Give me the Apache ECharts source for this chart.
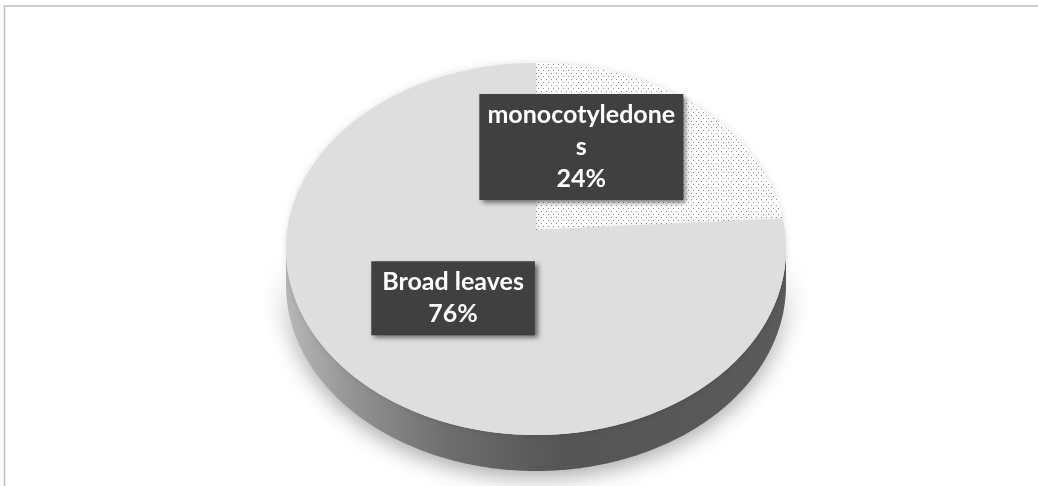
<!DOCTYPE html>
<html>
<head>
<meta charset="utf-8">
<script src="https://cdn.jsdelivr.net/npm/echarts@6/dist/echarts.min.js"></script>
<style>
html,body{margin:0;padding:0;background:#fff;}
#chart{width:1038px;height:486px;}
</style>
</head>
<body>
<div id="chart"></div>
<script>
// ---- data ----
const categories = ['monocotyledones', 'Broad leaves'];
const values = [24, 76];

// ---- layout (pixel geometry of the tilted pie) ----
const CX = 536, CY = 230;       // projected pie centre
const RX = 248.7, RY = 184.1;   // projection scale
const K = 0.1021;               // perspective factor
const DEPTH = 36;               // thickness of the pie
const LABEL_R = 0.47;
const LABEL_SHIFT = [[-32, -22], [0, 3]];
const LABEL_WIDTH = [192, null];
const LABEL_PAD = [[5, 6, 5, 6], [5, 11, 5, 11]];

const total = values.reduce((a, b) => a + b, 0);
const starts = [];
values.reduce((acc, v, i) => { starts[i] = acc; return acc + v; }, 0);

function proj(theta, r, dy) {
  const u = r * Math.sin(theta), v = -r * Math.cos(theta);
  const d = 1 - K * v;
  return [CX + RX * u / d, CY + (dy || 0) + RY * v / d];
}

function dotPattern(bg, dot) {
  const c = document.createElement('canvas');
  c.width = 5; c.height = 6;
  const g = c.getContext('2d');
  g.fillStyle = bg; g.fillRect(0, 0, 5, 6);
  g.fillStyle = dot;
  g.fillRect(1, 1, 1, 1);
  g.fillRect(3, 4, 1, 1);
  return c;
}
const monoFill = { image: dotPattern('#ffffff', '#8f8f8f'), repeat: 'repeat' };
const faceFills = [monoFill, '#dedede'];

const chart = echarts.init(document.getElementById('chart'), null, { renderer: 'canvas' });

function renderItem(params, api) {
  const i = params.dataIndex;
  const val = api.value(0);
  const a0 = starts[i] / total * Math.PI * 2;
  const a1 = a0 + val / total * Math.PI * 2;
  const children = [];

  // top face
  const pts = [[CX, CY]];
  const n = Math.max(8, Math.ceil((a1 - a0) / 0.01));
  for (let s = 0; s <= n; s++) pts.push(proj(a0 + (a1 - a0) * s / n, 1, 0));
  children.push({
    type: 'polygon', z2: 10,
    shape: { points: pts },
    style: { fill: faceFills[i], stroke: null,
             shadowBlur: 6, shadowColor: 'rgba(0,0,0,0.12)' }
  });

  // visible side (front part)
  const vis0 = Math.PI / 2 + Math.asin(K), vis1 = 3 * Math.PI / 2 - Math.asin(K);
  const s0 = Math.max(a0, vis0), s1 = Math.min(a1, vis1);
  if (s1 > s0) {
    const top = [], bot = [];
    const m = Math.ceil((s1 - s0) / 0.01);
    for (let s = 0; s <= m; s++) {
      const t = s0 + (s1 - s0) * s / m;
      top.push(proj(t, 1, 0));
      bot.push(proj(t, 1, DEPTH));
    }
    const sidePts = top.concat(bot.reverse());
    children.push({
      type: 'polygon', z2: 1,
      shape: { points: sidePts },
      style: {
        fill: new echarts.graphic.LinearGradient(1, 0, 0, 0, [
          { offset: 0, color: '#5a5a5a' },
          { offset: 0.45, color: '#555555' },
          { offset: 0.68, color: '#6e6e6e' },
          { offset: 0.86, color: '#929292' },
          { offset: 1, color: '#b8b8b8' }
        ]),
        stroke: null,
        shadowBlur: 22, shadowColor: 'rgba(0,0,0,0.35)', shadowOffsetY: 6
      }
    });
  }

  // label
  const mid = (a0 + a1) / 2;
  const lp = proj(mid, LABEL_R, 0);
  const pct = Math.round(val / total * 100) + '%';
  const lstyle = {
    text: categories[i] + '\n' + pct,
    x: lp[0] + LABEL_SHIFT[i][0], y: lp[1] + LABEL_SHIFT[i][1],
    align: 'center', verticalAlign: 'middle',
    fill: '#ffffff',
    font: 'bold 25px Lato, "Open Sans", sans-serif',
    lineHeight: 32,
    backgroundColor: '#404040',
    padding: LABEL_PAD[i],
    shadowBlur: 5, shadowColor: 'rgba(0,0,0,0.55)',
    shadowOffsetX: 3, shadowOffsetY: 3
  };
  if (LABEL_WIDTH[i]) { lstyle.width = LABEL_WIDTH[i]; lstyle.overflow = 'breakAll'; }
  children.push({ type: 'text', z2: 20, style: lstyle });

  return { type: 'group', children: children };
}

chart.setOption({
  animation: false,
  backgroundColor: '#ffffff',
  graphic: [{
    type: 'rect', silent: true, z: -1,
    shape: { x: 4.5, y: 6, width: 1200, height: 700 },
    style: { fill: null, stroke: '#bfbfbf', lineWidth: 1.5 }
  }],
  series: [{
    type: 'custom',
    coordinateSystem: 'none',
    renderItem: renderItem,
    data: categories.map((c, i) => ({ name: c, value: [values[i]] }))
  }]
});
</script>
</body>
</html>
